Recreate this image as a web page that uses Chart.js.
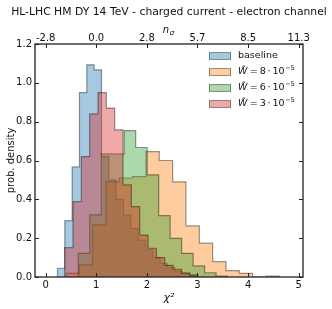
<!DOCTYPE html>
<html><head><meta charset="utf-8">
<script src="https://cdn.jsdelivr.net/npm/chart.js@4.4.1/dist/chart.umd.min.js"></script>
<style>html,body{margin:0;padding:0;background:#fff}#wrap{position:relative;width:332px;height:309px}</style>
</head><body><div id="wrap"><canvas id="c"></canvas></div>
<script>
// ---- data ----
const chartTitle = 'HL-LHC HM DY 14 TeV - charged current - electron channel';
const seriesLabels = ['baseline', '8', '6', '3'];           // W-hat values x 1e-5
const xTicks = [0, 1, 2, 3, 4, 5];
const topTickLabels = ['-2.8', '0.0', '2.8', '5.7', '8.5', '11.3'];
const yTicks = [0.0, 0.2, 0.4, 0.6, 0.8, 1.0, 1.2];

const baselineEdges = [0.233,0.378,0.523,0.668,0.813,0.958,1.103,1.248,1.393,1.538,1.683,1.828,1.973,2.118,2.263,2.408,2.553,2.698,2.843,2.988];
const baselineDensity = [0.045,0.29,0.567,0.95,1.093,1.067,0.62,0.50,0.40,0.32,0.25,0.19,0.14,0.10,0.07,0.05,0.03,0.02,0.01];

const w8Edges = [0.401,0.664,0.928,1.191,1.455,1.718,1.982,2.245,2.509,2.772,3.036,3.299,3.563,3.826,4.090,4.353,4.617];
const w8Density = [0.019,0.062,0.268,0.49,0.51,0.517,0.646,0.60,0.49,0.263,0.174,0.079,0.033,0.019,0.0,0.005];

const w6Edges = [0.644,0.871,1.098,1.325,1.552,1.779,2.006,2.233,2.460,2.687,2.914,3.141,3.368,3.595];
const w6Density = [0.122,0.32,0.634,0.634,0.754,0.667,0.526,0.316,0.199,0.122,0.057,0.022,0.005];

const w3Edges = [0.375,0.540,0.705,0.869,1.034,1.199,1.364,1.529,1.693,1.858,2.023,2.188,2.353,2.517,2.682,2.847,3.012];
const w3Density = [0.151,0.388,0.62,0.84,0.95,0.87,0.758,0.474,0.362,0.216,0.148,0.10,0.06,0.04,0.02,0.01];

// ---- styles ----
const fills = ['rgba(31,119,180,0.4)','rgba(255,127,14,0.4)','rgba(44,160,44,0.4)','rgba(214,39,40,0.4)'];
const edge = 'rgba(0,0,0,0.4)';
const FONT = "'DejaVu Sans', sans-serif";

function stepPoints(edges, dens) {
  const pts = [{x: edges[0], y: 0}];
  for (let i = 0; i < dens.length; i++) pts.push({x: edges[i], y: dens[i]});
  pts.push({x: edges[edges.length - 1], y: 0});
  return pts;
}

const allEdges = [baselineEdges, w8Edges, w6Edges, w3Edges];
const allDens = [baselineDensity, w8Density, w6Density, w3Density];
const drawOrder = [3, 2, 1, 0];

const datasets = allEdges.map((e, i) => ({
  label: seriesLabels[i],
  data: stepPoints(e, allDens[i]),
  stepped: true,
  fill: 'origin',
  backgroundColor: fills[i],
  borderColor: edge,
  borderWidth: 1.2,
  pointRadius: 0,
  order: drawOrder[i]
}));

const XMIN = -0.211, XMAX = 5.085;

const decor = {
  id: 'decor',
  afterDraw(chart) {
    const ctx = chart.ctx, a = chart.chartArea;
    const sx = chart.scales.x, sy = chart.scales.y;
    ctx.save();
    ctx.strokeStyle = '#222'; ctx.lineWidth = 1;
    ctx.beginPath();
    xTicks.forEach(v => {
      const px = Math.round(sx.getPixelForValue(v)) + 0.5;
      ctx.moveTo(px, a.bottom); ctx.lineTo(px, a.bottom - 4);
      ctx.moveTo(px, a.top); ctx.lineTo(px, a.top + 4);
    });
    yTicks.forEach(v => {
      const py = Math.round(sy.getPixelForValue(v)) + 0.5;
      ctx.moveTo(a.left, py); ctx.lineTo(a.left + 4, py);
      ctx.moveTo(a.right, py); ctx.lineTo(a.right - 4, py);
    });
    ctx.stroke();
    ctx.strokeStyle = '#222'; ctx.lineWidth = 1.3;
    ctx.strokeRect(a.left, a.top, a.right - a.left, a.bottom - a.top);
    // title
    ctx.fillStyle = '#111';
    ctx.font = '10.8px ' + FONT;
    ctx.textAlign = 'center'; ctx.textBaseline = 'middle';
    ctx.fillText(chartTitle, (a.left + a.right) / 2, 12);
    // top axis label n_sigma
    const cx = (a.left + a.right) / 2;
    ctx.font = 'italic 10px ' + FONT;
    ctx.textAlign = 'right';
    ctx.fillText('n', cx, 30);
    ctx.font = 'italic 7.5px ' + FONT;
    ctx.textAlign = 'left';
    ctx.fillText('σ', cx + 0.5, 33);
    // legend
    const lx = 209, tx = 238, rows = [56, 72, 88, 104];
    for (let i = 0; i < 4; i++) {
      const y = rows[i];
      ctx.fillStyle = fills[i];
      ctx.fillRect(lx, y - 3.5, 22, 7);
      ctx.strokeStyle = edge; ctx.lineWidth = 1;
      ctx.strokeRect(lx + 0.5, y - 3.5, 21, 7);
      ctx.fillStyle = '#111';
      ctx.textBaseline = 'middle'; ctx.textAlign = 'left';
      if (i === 0) {
        ctx.font = '9.5px ' + FONT;
        ctx.fillText(seriesLabels[0], tx, y);
      } else {
        let x = tx;
        ctx.font = 'italic 9.5px ' + FONT;
        ctx.fillText('Ŵ', x, y); x += ctx.measureText('Ŵ').width + 0.5;
        ctx.font = '9.5px ' + FONT;
        const mid = '\u2009=\u2009' + seriesLabels[i] + '\u2009·\u200910';
        ctx.fillText(mid, x, y); x += ctx.measureText(mid).width + 0.5;
        ctx.font = '6.5px ' + FONT;
        ctx.fillText('−5', x, y - 4);
      }
    }
    ctx.restore();
  }
};

new Chart(document.getElementById('c'), {
  type: 'line',
  data: { datasets },
  plugins: [decor],
  options: {
    responsive: true, maintainAspectRatio: false, animation: false,
    layout: { padding: { left: 0, right: 29, top: 0, bottom: 0 } },
    plugins: { legend: { display: false }, tooltip: { enabled: false }, title: { display: false } },
    scales: {
      x: {
        type: 'linear', position: 'bottom', min: XMIN, max: XMAX,
        afterFit: s => { s.height = 32; },
        afterBuildTicks: s => { s.ticks = xTicks.map(v => ({ value: v })); },
        grid: { display: false, drawTicks: false },
        border: { display: false },
        ticks: { padding: 2, color: '#111', font: { family: FONT, size: 10 }, maxRotation: 0, callback: v => String(v) },
        title: { display: true, text: 'χ²', color: '#111', font: { family: FONT, size: 11, style: 'italic' }, padding: { top: 0, bottom: 4 } }
      },
      x2: {
        type: 'linear', position: 'top', min: XMIN, max: XMAX,
        afterFit: s => { s.height = 44; },
        afterBuildTicks: s => { s.ticks = xTicks.map(v => ({ value: v })); },
        grid: { display: false, drawTicks: false },
        border: { display: false },
        ticks: { padding: 0, color: '#111', font: { family: FONT, size: 10 }, maxRotation: 0,
                 callback: v => topTickLabels[xTicks.indexOf(v)] }
      },
      y: {
        type: 'linear', position: 'left', min: 0, max: 1.2,
        afterFit: s => { s.width = 35; },
        afterBuildTicks: s => { s.ticks = yTicks.map(v => ({ value: v })); },
        grid: { display: false, drawTicks: false },
        border: { display: false },
        ticks: { padding: 3, color: '#111', font: { family: FONT, size: 10 }, callback: v => v.toFixed(1) },
        title: { display: true, text: 'prob. density', color: '#111', font: { family: FONT, size: 10 }, padding: { top: 5, bottom: 0 } }
      }
    }
  }
});
</script></body></html>
